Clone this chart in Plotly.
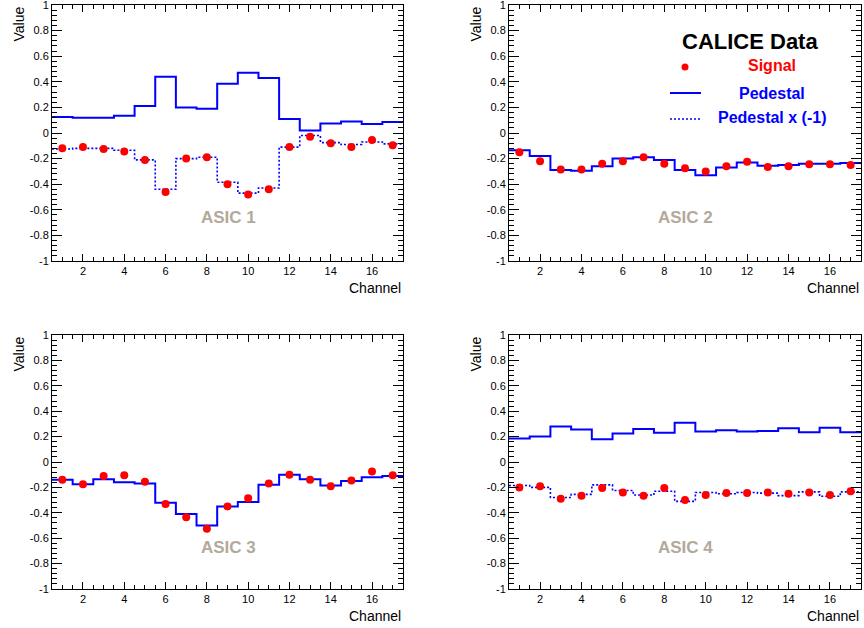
import plotly.graph_objects as go

# ---------------- data ----------------
channels = list(range(1, 18))

asic1_pedestal = [0.125, 0.12, 0.12, 0.135, 0.21, 0.44, 0.20, 0.19, 0.385, 0.47, 0.43, 0.11, 0.02, 0.075, 0.09, 0.07, 0.085]
asic1_signal = [-0.12, -0.11, -0.125, -0.145, -0.21, -0.46, -0.20, -0.19, -0.40, -0.48, -0.44, -0.11, -0.03, -0.08, -0.11, -0.055, -0.095]

asic2_pedestal = [-0.135, -0.18, -0.29, -0.295, -0.26, -0.20, -0.19, -0.21, -0.29, -0.33, -0.27, -0.23, -0.255, -0.25, -0.24, -0.24, -0.235]
asic2_signal = [-0.15, -0.22, -0.285, -0.285, -0.24, -0.22, -0.19, -0.24, -0.275, -0.30, -0.26, -0.225, -0.265, -0.26, -0.245, -0.245, -0.25]

asic3_pedestal = [-0.14, -0.175, -0.135, -0.16, -0.17, -0.32, -0.41, -0.50, -0.35, -0.315, -0.18, -0.10, -0.135, -0.185, -0.15, -0.12, -0.11]
asic3_signal = [-0.14, -0.175, -0.11, -0.105, -0.155, -0.33, -0.435, -0.525, -0.35, -0.285, -0.17, -0.10, -0.14, -0.19, -0.145, -0.075, -0.105]

asic4_pedestal = [0.185, 0.20, 0.28, 0.255, 0.18, 0.225, 0.26, 0.23, 0.31, 0.24, 0.25, 0.24, 0.245, 0.265, 0.235, 0.27, 0.235]
asic4_signal = [-0.20, -0.19, -0.29, -0.265, -0.205, -0.24, -0.265, -0.205, -0.30, -0.26, -0.245, -0.245, -0.24, -0.25, -0.24, -0.26, -0.23]

panel_names = ["ASIC 1", "ASIC 2", "ASIC 3", "ASIC 4"]
pedestals = [asic1_pedestal, asic2_pedestal, asic3_pedestal, asic4_pedestal]
signals = [asic1_signal, asic2_signal, asic3_signal, asic4_signal]
show_inverted = [True, False, False, True]

y_tick_vals = [-1, -0.8, -0.6, -0.4, -0.2, 0, 0.2, 0.4, 0.6, 0.8, 1]
y_tick_text = ["-1", "-0.8", "-0.6", "-0.4", "-0.2", "0", "0.2", "0.4", "0.6", "0.8", "1"]
x_tick_vals = [2, 4, 6, 8, 10, 12, 14, 16]
x_tick_text = ["2", "4", "6", "8", "10", "12", "14", "16"]

legend_title = "CALICE Data"
legend_labels = ["Signal", "Pedestal", "Pedestal x (-1)"]

# ---------------- layout helpers ----------------
W, H = 864, 628
FONT = "Liberation Sans, Arial, Helvetica, sans-serif"
BLUE = "#0000ff"
RED = "#ff0000"
TAN = "#b3a99b"
DOT = "2px,2px"


def fx(p):
    return p / W


def fy(p):
    return 1 - p / H


# pixel boxes of the plot areas (left, right, top, bottom)
boxes = [(52, 403, 5, 261), (509, 861, 5, 261), (52, 403, 335, 589), (509, 861, 335, 589)]

fig = go.Figure()
annotations = []
shapes = []

for i in range(4):
    ax = "" if i == 0 else str(i + 1)
    xa, ya = "x" + ax, "y" + ax
    ped = pedestals[i]
    sig = signals[i]
    edges = [c - 0.5 for c in channels] + [channels[-1] + 0.5]
    ped_step = ped + [ped[-1]]
    fig.add_trace(go.Scatter(x=edges, y=ped_step, mode="lines", line=dict(color=BLUE, width=2, shape="hv"),
                             xaxis=xa, yaxis=ya, showlegend=False, hoverinfo="skip"))
    if show_inverted[i]:
        inv_step = [-v for v in ped_step]
        fig.add_trace(go.Scatter(x=edges, y=inv_step, mode="lines",
                                 line=dict(color=BLUE, width=1.6, shape="hv", dash=DOT),
                                 xaxis=xa, yaxis=ya, showlegend=False, hoverinfo="skip"))
    fig.add_trace(go.Scatter(x=channels, y=sig, mode="markers", marker=dict(color=RED, size=8),
                             xaxis=xa, yaxis=ya, showlegend=False))

    l, r, t, b = boxes[i]
    common = dict(showline=True, linecolor="black", linewidth=1, mirror="ticks", ticks="inside",
                  tickcolor="black", showgrid=False, zeroline=False, automargin=False,
                  ticklabeloverflow="allow",
                  tickfont=dict(family=FONT, size=11, color="black"))
    fig.update_layout(**{
        "xaxis" + ax: dict(domain=[fx(l), fx(r)], range=[0.5, 17.5], anchor=ya,
                           tickvals=x_tick_vals, ticktext=x_tick_text, ticklen=7,
                           minor=dict(dtick=0.5, tick0=0.5, ticklen=4, ticks="inside", tickcolor="black"),
                           **common),
        "yaxis" + ax: dict(domain=[fy(b), fy(t)], range=[-1, 1], anchor=xa,
                           tickvals=y_tick_vals, ticktext=y_tick_text, ticklen=10,
                           minor=dict(dtick=0.04, tick0=0, ticklen=5, ticks="inside", tickcolor="black"),
                           **common),
    })
    # axis titles
    annotations.append(dict(text="Value", x=fx(l - 34), y=fy(t), xref="paper", yref="paper",
                            xanchor="center", yanchor="top", textangle=-90, showarrow=False,
                            font=dict(family=FONT, size=14, color="black")))
    annotations.append(dict(text="Channel", x=fx(r), y=fy(b + 27), xref="paper", yref="paper",
                            xanchor="right", yanchor="middle", showarrow=False,
                            font=dict(family=FONT, size=14, color="black")))
    # panel label
    annotations.append(dict(text="<b>" + panel_names[i] + "</b>", x=fx(l + 176), y=fy(t + 212),
                            xref="paper", yref="paper", xanchor="center", yanchor="middle",
                            showarrow=False, font=dict(family=FONT, size=17, color=TAN)))

# legend (drawn in panel 2)
annotations.append(dict(text="<b>" + legend_title + "</b>", x=fx(750), y=fy(41), xref="paper", yref="paper",
                        xanchor="center", yanchor="middle", showarrow=False,
                        font=dict(family=FONT, size=22, color="black")))
legend_colors = [RED, BLUE, BLUE]
legend_ys = [66, 93, 117]
for lab, col, yy in zip(legend_labels, legend_colors, legend_ys):
    annotations.append(dict(text="<b>" + lab + "</b>", x=fx(772), y=fy(yy), xref="paper", yref="paper",
                            xanchor="center", yanchor="middle", showarrow=False,
                            font=dict(family=FONT, size=16, color=col)))
shapes.append(dict(type="circle", xref="paper", yref="paper", x0=fx(681.5), x1=fx(688.5),
                   y0=fy(70.5), y1=fy(63.5), fillcolor=RED, line=dict(width=0)))
shapes.append(dict(type="line", xref="paper", yref="paper", x0=fx(670), x1=fx(701),
                   y0=fy(93), y1=fy(93), line=dict(color=BLUE, width=2)))
shapes.append(dict(type="line", xref="paper", yref="paper", x0=fx(670), x1=fx(701),
                   y0=fy(119), y1=fy(119), line=dict(color=BLUE, width=1.5, dash=DOT)))

fig.update_layout(width=W, height=H, margin=dict(l=0, r=0, t=0, b=0),
                  paper_bgcolor="white", plot_bgcolor="white",
                  annotations=annotations, shapes=shapes, showlegend=False,
                  font=dict(family=FONT))

fig.write_html("out.html", config={"displayModeBar": False},
               post_script="document.body.style.margin='0';document.body.style.padding='0';")
